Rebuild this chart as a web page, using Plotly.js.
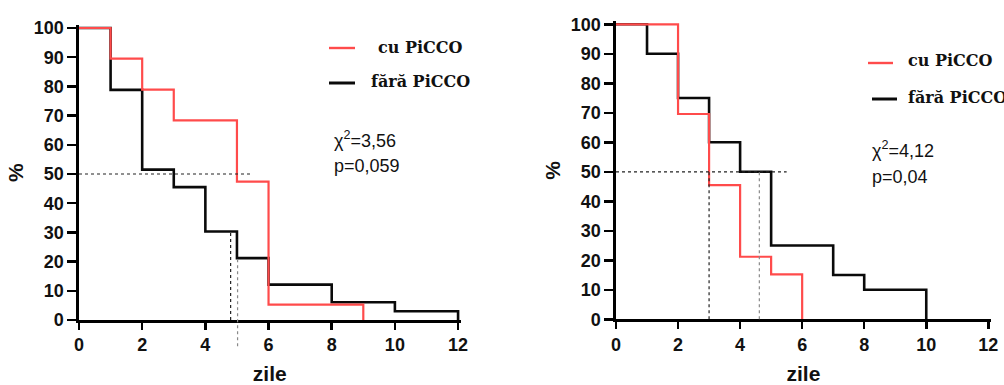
<!DOCTYPE html>
<html>
<head>
<meta charset="utf-8">
<script src="https://cdn.plot.ly/plotly-3.0.1.min.js"></script>
<style>
  html, body { margin: 0; padding: 0; background: #fff; overflow: hidden; }
  #chart { width: 1004px; height: 385px; }
</style>
</head>
<body>
<div id="chart"></div>
<script>
// Kaplan-Meier style survival (%) by day, two panels, with / without PiCCO monitoring
const dayTicks = [0, 2, 4, 6, 8, 10, 12];
const pctTicks = [0, 10, 20, 30, 40, 50, 60, 70, 80, 90, 100];
const seriesNames = ['cu PiCCO', 'fără PiCCO'];

// Left panel
const leftCuDays = [0, 1, 2, 3, 5, 6, 9];
const leftCuPct = [100, 89.5, 78.9, 68.4, 47.4, 5.3, 0];
const leftFaraDays = [0, 1, 2, 3, 4, 5, 6, 8, 10, 12];
const leftFaraPct = [100, 78.8, 51.5, 45.5, 30.3, 21.2, 12.1, 6.1, 3.0, 0];

// Right panel
const rightCuDays = [0, 2, 3, 4, 5, 6];
const rightCuPct = [100, 69.6, 45.5, 21.2, 15.2, 0];
const rightFaraDays = [0, 1, 2, 3, 4, 5, 7, 8, 10];
const rightFaraPct = [100, 90, 75, 60, 50, 25, 15, 10, 0];

// Test statistics
const leftStats = ['χ<sup>2</sup>=3,56', 'p=0,059'];
const rightStats = ['χ<sup>2</sup>=4,12', 'p=0,04'];

// Median read-off guides: 50% level, then verticals (dashed, dotted)
const medianLevel = 50;
const medianLevelEnd = 5.5;
const leftMedianDays = [4.8, 5.02];
const leftMedianFrom = [0, -9];
const leftMedianTo = [30.3, 21.2];
const rightMedianDays = [3, 4.62];
const rightMedianFrom = [0, 0];
const rightMedianTo = [50, 50];

const W = 1004, H = 385;
const px = x => x / W;
const py = y => 1 - y / H;

const X_RANGE = [0, 12.08];
const Y_RANGE = [0, 101];
const dom = {
  x: [px(79), px(460.6)],
  y: [py(320), py(25.1)],
  x2: [px(616), px(990.8)],
  y2: [py(319.3), py(21.35)]
};
const yToPaper = (v, d) => d[0] + (v - Y_RANGE[0]) / (Y_RANGE[1] - Y_RANGE[0]) * (d[1] - d[0]);

const RED = '#ff4b4b';
const BLACK = '#0a0a0a';

function stepTrace(x, y, name, color, width, xa, ya) {
  return {
    x: x, y: y, name: name, type: 'scatter', mode: 'lines',
    line: { shape: 'hv', color: color, width: width },
    xaxis: xa, yaxis: ya, showlegend: false, hoverinfo: 'x+y'
  };
}

const data = [
  stepTrace(leftFaraDays, leftFaraPct, seriesNames[1], BLACK, 2.6, 'x', 'y'),
  stepTrace(leftCuDays, leftCuPct, seriesNames[0], RED, 2.2, 'x', 'y'),
  stepTrace(rightFaraDays, rightFaraPct, seriesNames[1], BLACK, 2.6, 'x2', 'y2'),
  stepTrace(rightCuDays, rightCuPct, seriesNames[0], RED, 2.2, 'x2', 'y2')
];

const tickFont = { family: 'Liberation Sans, Arial, sans-serif', size: 18, weight: 'bold', color: '#111' };
const titleFont = { family: 'Liberation Sans, Arial, sans-serif', size: 21, weight: 'bold', color: '#111' };

function xAxis(domain, anchor) {
  return {
    domain: domain, anchor: anchor, range: X_RANGE, tickmode: 'array', tickvals: dayTicks,
    ticks: 'outside', ticklen: 7, tickwidth: 2.5, tickcolor: '#000',
    showline: true, linewidth: 2.6, linecolor: '#000', showgrid: false, zeroline: false,
    tickfont: tickFont, title: { text: 'zile', font: titleFont, standoff: 18 }, fixedrange: true
  };
}
function yAxis(domain, anchor) {
  return {
    domain: domain, anchor: anchor, range: Y_RANGE, tickmode: 'array', tickvals: pctTicks,
    ticks: 'outside', ticklen: 9, tickwidth: 2.5, tickcolor: '#000',
    showline: true, linewidth: 2.6, linecolor: '#000', showgrid: false, zeroline: false,
    tickfont: tickFont, title: { text: '%', font: titleFont, standoff: 5 }, fixedrange: true
  };
}

const guideDash = { color: '#222', width: 1.2, dash: '3px,3px' };
const guideDot = { color: '#8a8a8a', width: 1.2, dash: 'dot' };

function guides(xr, yr, ydom, days, from, to) {
  return [
    { type: 'line', xref: xr, yref: yr, x0: 0, x1: medianLevelEnd, y0: medianLevel, y1: medianLevel, line: guideDash },
    { type: 'line', xref: xr, yref: yr, x0: days[0], x1: days[0], y0: from[0], y1: to[0], line: guideDash },
    { type: 'line', xref: xr, yref: 'paper', x0: days[1], x1: days[1],
      y0: yToPaper(from[1], ydom), y1: yToPaper(to[1], ydom), line: guideDot }
  ];
}

// Hand-placed key for each panel
function keyLine(x0, x1, y, color, width) {
  return { type: 'line', xref: 'paper', yref: 'paper', x0: px(x0), x1: px(x1), y0: py(y), y1: py(y),
           line: { color: color, width: width } };
}
const keyFont = { family: 'DejaVu Serif, serif', size: 16, weight: 'bold', color: '#111' };
function keyText(text, x, y, anchor) {
  return { text: text, xref: 'paper', yref: 'paper', x: px(x), y: py(y), xanchor: anchor, yanchor: 'middle',
           showarrow: false, font: keyFont };
}
const statFont = { family: 'Liberation Sans, Arial, sans-serif', size: 18, color: '#111' };
function statText(text, x, y) {
  return { text: text, xref: 'paper', yref: 'paper', x: px(x), y: py(y), xanchor: 'left', yanchor: 'middle',
           showarrow: false, font: statFont };
}

const shapes = [].concat(
  guides('x', 'y', dom.y, leftMedianDays, leftMedianFrom, leftMedianTo),
  guides('x2', 'y2', dom.y2, rightMedianDays, rightMedianFrom, rightMedianTo),
  [
    keyLine(329, 355, 48, RED, 2.4),
    keyLine(329, 355, 83, BLACK, 3),
    keyLine(868, 893, 63, RED, 2.4),
    keyLine(872, 897, 99, BLACK, 3)
  ]
);

const annotations = [
  keyText(seriesNames[0], 420, 47, 'center'),
  keyText(seriesNames[1], 420, 82, 'center'),
  keyText(seriesNames[0], 906, 61, 'left'),
  keyText(seriesNames[1], 906, 98, 'left'),
  statText(leftStats[0], 332, 139),
  statText(leftStats[1], 332, 166),
  statText(rightStats[0], 870, 149),
  statText(rightStats[1], 870, 177)
];

const layout = {
  width: W, height: H,
  margin: { l: 0, r: 0, t: 0, b: 0 },
  paper_bgcolor: '#fff', plot_bgcolor: '#fff',
  showlegend: false,
  xaxis: xAxis(dom.x, 'y'),
  yaxis: yAxis(dom.y, 'x'),
  xaxis2: xAxis(dom.x2, 'y2'),
  yaxis2: yAxis(dom.y2, 'x2'),
  shapes: shapes,
  annotations: annotations
};

Plotly.newPlot('chart', data, layout, { displayModeBar: false, staticPlot: true });
</script>
</body>
</html>
